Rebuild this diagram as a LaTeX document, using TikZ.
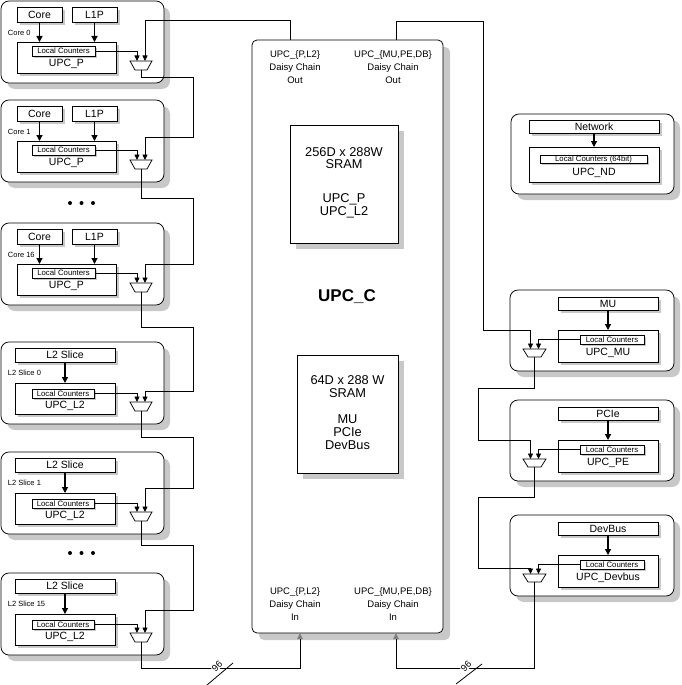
\documentclass[tikz,border=0pt]{standalone}
\usepackage{fontspec}
\setmainfont{Liberation Sans}
\usetikzlibrary{arrows.meta}

\newcommand{\fMain}{\fontsize{10.5}{12}\selectfont}
\newcommand{\fLab}{\fontsize{7.5}{9}\selectfont}
\newcommand{\fLC}{\fontsize{7.8}{9}\selectfont}
\newcommand{\fCtext}{\fontsize{9.5}{13}\selectfont}
\newcommand{\fSram}{\fontsize{12.8}{12.5}\selectfont}
\newcommand{\fBig}{\fontsize{17}{20}\selectfont\bfseries}

\definecolor{shadowc}{RGB}{200,200,200}

\tikzset{
 every node/.style={inner sep=0pt, outer sep=0pt},
 bx/.style={draw, fill=white, anchor=north west, line width=0.75pt},
 outerbox/.style={bx, rounded corners=8pt},
 ibox/.style={bx, font=\fMain},
 lcbox/.style={bx, font=\fLC},
 txt/.style={font=\fMain},
 lab/.style={font=\fLab, anchor=west},
 ctext/.style={font=\fCtext, align=center},
 sram/.style={font=\fSram, align=center},
 muxn/.style={minimum width=22pt, minimum height=9pt},
 muxline/.style={draw, fill=white, line width=0.75pt},
 conn/.style={line width=0.8pt},
 arr/.style={conn, -{Triangle[length=5.5pt,width=5pt]}},
 feed/.style={line width=1.2pt, -{Triangle[length=6pt,width=6pt]}},
 garr/.style={conn, -{Triangle[length=6pt,width=5.5pt,color=gray]}},
 dotn/.style={circle, fill=black, minimum size=4pt},
 slashlab/.style={font=\fCtext, rotate=45, fill=white, inner sep=0.5pt},
 shadowfill/.style={fill=shadowc, draw=none},
}

% box with a drop shadow: style, name, x, y, w, h, shadow offset, text, shadow options
\newcommand{\mkbox}[9]{%
 \fill[shadowfill, #9] (#3+#7,#4+#7) rectangle ++(#5,#6);
 \node[#1, minimum width=#5pt, minimum height=#6pt] (#2) at (#3,#4) {#8};
}

% trapezoid multiplexer drawn on a named node
\newcommand{\muxdraw}[2]{%
 \path[muxline] (#1.north west) -- (#1.north east) -- ([xshift=-#2pt]#1.south east) -- ([xshift=#2pt]#1.south west) -- cycle;
}

\newcommand{\corebox}[3]{%
 \mkbox{outerbox}{#1o}{1}{#2}{163}{82}{6}{}{rounded corners=8pt}
 \mkbox{ibox}{#1a}{17}{#2+6}{45}{15}{3}{Core}{}
 \mkbox{ibox}{#1b}{72}{#2+6}{45}{15}{3}{L1P}{}
 \mkbox{ibox}{#1u}{17}{#2+41}{99}{31}{3}{}{}
 \mkbox{lcbox}{#1c}{32}{#2+45}{63}{10}{2}{Local Counters}{}
 \node[txt] (#1t) at (66.5,#2+63) {UPC\_P};
 \node[lab] (#1l) at (8,#2+32) {#3};
 \node[muxn] (#1m) at (141,#2+64.5) {};
 \muxdraw{#1m}{5}
 \draw[feed] (#1a.south) -- (#1a.south |- #1u.north);
 \draw[feed] (#1b.south) -- (#1b.south |- #1u.north);
 \draw[arr] (#1c.east) -| ([xshift=-4pt]#1m.north);
}

\newcommand{\slicebox}[3]{%
 \mkbox{outerbox}{#1o}{1}{#2}{163}{82}{6}{}{rounded corners=8pt}
 \mkbox{ibox}{#1a}{15}{#2+6}{100}{14}{3}{L2 Slice}{}
 \mkbox{ibox}{#1u}{15}{#2+41}{100}{31}{3}{}{}
 \mkbox{lcbox}{#1c}{32}{#2+47}{62}{9}{2}{Local Counters}{}
 \node[txt] (#1t) at (65,#2+64) {UPC\_L2};
 \node[lab] (#1l) at (8,#2+31) {#3};
 \node[muxn] (#1m) at (141,#2+64.5) {};
 \muxdraw{#1m}{5}
 \draw[feed] (#1a.south) -- (#1a.south |- #1u.north);
 \draw[arr] (#1c.east) -| ([xshift=-4pt]#1m.north);
}

\newcommand{\devbox}[4]{%
 \mkbox{outerbox}{#1o}{510}{#2}{164}{81}{6}{}{rounded corners=8pt}
 \mkbox{ibox}{#1a}{558}{#2+7}{100}{13}{3}{#3}{}
 \mkbox{ibox}{#1u}{558}{#2+40}{100}{32}{3}{}{}
 \mkbox{lcbox}{#1c}{580}{#2+45}{64}{9}{2}{Local Counters}{}
 \node[txt] (#1t) at (608,#2+63) {#4};
 \node[muxn, minimum width=23pt, minimum height=8pt] (#1m) at (534.5,#2+63) {};
 \muxdraw{#1m}{5}
 \draw[feed] (#1a.south) -- (#1a.south |- #1u.north);
 \draw[arr] (#1c.west) -| ([xshift=4pt]#1m.north);
}

\begin{document}
\begin{tikzpicture}[x=1pt,y=-1pt]
\useasboundingbox (0,0) rectangle (682,685);

% central block
\mkbox{bx, rounded corners=5pt}{upcc}{252}{40}{191}{593}{7}{}{rounded corners=5pt}
\mkbox{bx}{sram1}{290}{125}{108}{118}{6}{}{}
\mkbox{bx}{sram2}{297}{355}{101}{118}{6}{}{}
\node[sram] (s1a) at (344,158) {256D x 288W\\SRAM};
\node[sram] (s1b) at (344,206) {UPC\_P\\UPC\_L2};
\node[sram] (s2a) at (347.5,386.5) {64D x 288 W\\SRAM};
\node[sram, font=\fontsize{12.8}{13}\selectfont] (s2b) at (347.5,432) {MU\\PCIe\\DevBus};
\node[font=\fBig] (ctitle) at (347,297) {UPC\_C};
\node[ctext] (tOL) at (295,67) {UPC\_\{P,L2\}\\Daisy Chain\\Out};
\node[ctext] (tOR) at (393,67) {UPC\_\{MU,PE,DB\}\\Daisy Chain\\Out};
\node[ctext] (tIL) at (295,604) {UPC\_\{P,L2\}\\Daisy Chain\\In};
\node[ctext] (tIR) at (393,604) {UPC\_\{MU,PE,DB\}\\Daisy Chain\\In};

% left column
\corebox{L1}{1}{Core 0}
\corebox{L2}{100}{Core 1}
\corebox{L3}{223}{Core 16}
\slicebox{L4}{342}{L2 Slice 0}
\slicebox{L5}{452}{L2 Slice 1}
\slicebox{L6}{573}{L2 Slice 15}

\node[dotn] (d1) at (70,203) {};
\node[dotn] (d2) at (81.5,203) {};
\node[dotn] (d3) at (93,203) {};
\node[dotn] (d4) at (70,553) {};
\node[dotn] (d5) at (81.5,553) {};
\node[dotn] (d6) at (93,553) {};

% right column
\mkbox{outerbox}{ndo}{511}{114}{163}{80}{6}{}{rounded corners=8pt}
\mkbox{ibox}{nda}{529}{120}{130}{13}{3}{Network}{}
\mkbox{ibox}{ndu}{529}{147}{130}{35}{3}{}{}
\mkbox{lcbox}{ndc}{540}{155}{107}{8}{2}{Local Counters (64bit)}{}
\node[txt] (ndt) at (594,173) {UPC\_ND};
\draw[feed] (nda.south) -- (nda.south |- ndu.north);

\devbox{MU}{290}{MU}{UPC\_MU}
\devbox{PE}{400}{PCIe}{UPC\_PE}
\devbox{DB}{515}{DevBus}{UPC\_Devbus}

% anchor points on the central block
\coordinate (uoL) at ([xshift=38pt]upcc.north west);
\coordinate (uoR) at ([xshift=144pt]upcc.north west);
\coordinate (uiL) at ([xshift=48pt]upcc.south west);
\coordinate (uiR) at ([xshift=144pt]upcc.south west);

% bend points
\coordinate (k2) at (193,137);
\coordinate (k3) at (193,264);
\coordinate (k4) at (193,391);
\coordinate (k5) at (193,488);
\coordinate (k6) at (193,610);
\coordinate (k7) at (300,668);
\coordinate (r1) at (483,330);
\coordinate (r2) at (478,440);
\coordinate (r3) at (478,568);
\coordinate (r4) at (396,668);

% left daisy chain
\draw[arr] (uoL) -- ++(0,-20) -| ([xshift=4pt]L1m.north);
\draw[arr] (L1m.south) -- ++(0,7) -| (k2) -| ([xshift=4pt]L2m.north);
\draw[arr] (L2m.south) -- ++(0,29) -| (k3) -| ([xshift=4pt]L3m.north);
\draw[arr] (L3m.south) -- ++(0,35) -| (k4) -| ([xshift=4pt]L4m.north);
\draw[arr] (L4m.south) -- ++(0,26) -| (k5) -| ([xshift=4pt]L5m.north);
\draw[arr] (L5m.south) -- ++(0,24) -| (k6) -| ([xshift=4pt]L6m.north);
\draw[garr] (L6m.south) |- (k7) -- (uiL);

% right daisy chain
\draw[arr] (uoR) -- ++(0,-19) -| (r1) -| ([xshift=-4pt]MUm.north);
\draw[arr] (MUm.south) -- ++(0,31) -| (r2) -| ([xshift=-4pt]PEm.north);
\draw[arr] (PEm.south) -- ++(0,30) -| (r3) -| ([xshift=-4pt]DBm.north);
\draw[garr] (DBm.south) |- (r4) -- (uiR);

% bus width marks
\node[slashlab] (w1) at (217,666) {96};
\coordinate (w1a) at (207,685);
\coordinate (w1b) at (233,663);
\draw[conn] (w1a) -- (w1b);
\node[slashlab] (w2) at (466,666) {96};
\coordinate (w2a) at (456,684);
\coordinate (w2b) at (482,664);
\draw[conn] (w2a) -- (w2b);
\end{tikzpicture}
\end{document}
